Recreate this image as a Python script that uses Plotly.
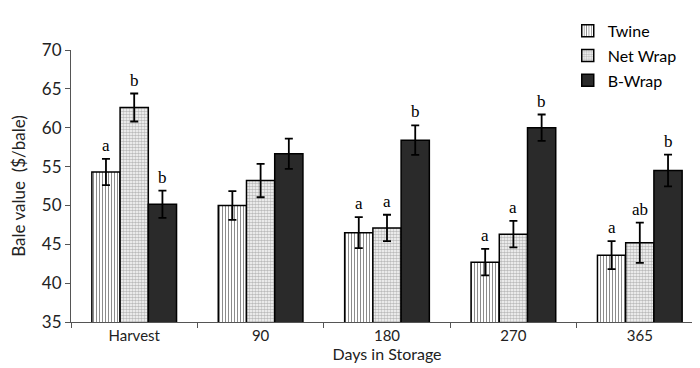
import plotly.graph_objects as go

categories = ["Harvest", "90", "180", "270", "365"]
twine = [54.3, 50.0, 46.5, 42.7, 43.6]
twine_err = [1.7, 1.85, 2.0, 1.7, 1.8]
net_wrap = [62.6, 53.2, 47.1, 46.3, 45.2]
net_err = [1.8, 2.15, 1.7, 1.7, 2.6]
b_wrap = [50.15, 56.65, 58.4, 60.0, 54.5]
b_err = [1.75, 1.95, 1.9, 1.7, 2.05]
twine_letters = ["a", "", "a", "a", "a"]
net_letters = ["b", "", "a", "a", "ab"]
b_letters = ["b", "", "b", "b", "b"]

series = [
    ("Twine", twine, twine_err, twine_letters,
     dict(color="white", line=dict(color="black", width=1.5),
          pattern=dict(shape="|", fgcolor="black", bgcolor="white", size=3, solidity=0.3))),
    ("Net Wrap", net_wrap, net_err, net_letters,
     dict(color="white", line=dict(color="black", width=1.5),
          pattern=dict(shape=".", fgcolor="#777777", bgcolor="white", size=3, solidity=0.6))),
    ("B-Wrap", b_wrap, b_err, b_letters,
     dict(color="#2a2a2a", line=dict(color="black", width=1.5))),
]

fig = go.Figure()
for i, (name, vals, errs, letters, marker) in enumerate(series):
    fig.add_trace(go.Bar(
        name=name, x=categories, y=vals, marker=marker,
        error_y=dict(type="data", array=errs, color="black", thickness=1.8, width=4),
        legendgroup=name,
    ))

bar_w = (1 - 0.33) / 3
for i, (name, vals, errs, letters, marker) in enumerate(series):
    for j, lab in enumerate(letters):
        if not lab:
            continue
        fig.add_annotation(
            x=j + (i - 1) * bar_w, y=vals[j] + errs[j], text=lab,
            showarrow=False, yanchor="bottom", yshift=2,
            font=dict(family="Liberation Serif", size=17, color="black"),
        )

fig.update_layout(
    legend=dict(font=dict(family="Lato", size=16, color="black"),
                bgcolor="rgba(0,0,0,0)", xanchor="left", yanchor="top",
                x=0.786, y=1.133, traceorder="grouped", tracegroupgap=1,
                itemwidth=30),
)

fig.update_layout(
    width=700, height=368,
    margin=dict(l=63, r=5, t=42, b=54),
    paper_bgcolor="white", plot_bgcolor="white",
    barmode="group", bargap=0.33, bargroupgap=0,
    font=dict(family="Lato", size=15, color="#222222"),
    xaxis=dict(
        type="category", showline=True, linecolor="#555555", linewidth=1,
        ticks="outside", tickson="boundaries", ticklen=5, tickcolor="#555555",
        title=dict(text="Days in Storage", standoff=2, font=dict(size=16)),
        showgrid=False, tickfont=dict(size=15),
    ),
    yaxis=dict(
        range=[35, 70], dtick=5, showline=True, linecolor="#555555", linewidth=1,
        ticks="outside", ticklen=5, tickcolor="#555555", showgrid=False,
        zeroline=False, tickfont=dict(size=17),
        title=dict(text="Bale value  ($/bale)", standoff=12, font=dict(size=17)),
    ),
)

fig.write_html("out.html")
